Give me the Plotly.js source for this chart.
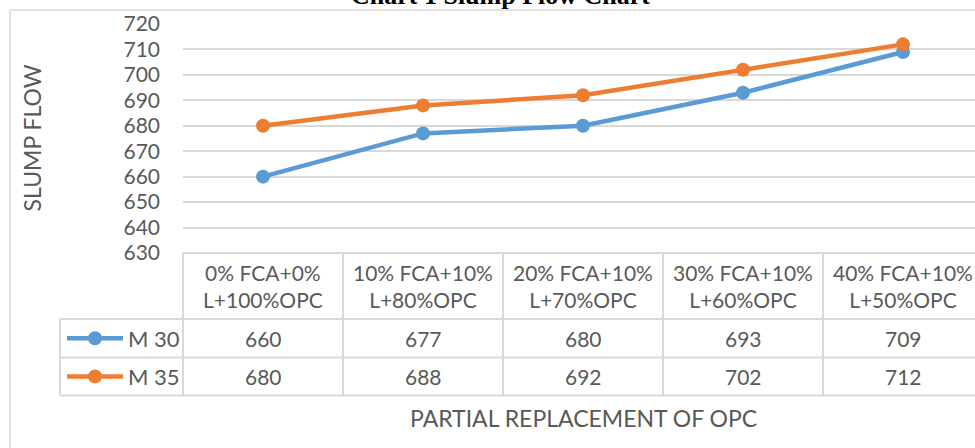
<!DOCTYPE html>
<html>
<head>
<meta charset="utf-8">
<script src="https://cdn.plot.ly/plotly-3.0.1.min.js"></script>
<style>
html,body{margin:0;padding:0;overflow:hidden;background:#fff;}
#chart{width:1000px;height:448px;}
</style>
</head>
<body>
<div id="chart"></div>
<script>
// ---- data ----
const categories = ['0% FCA+0%<br>L+100%OPC', '10% FCA+10%<br>L+80%OPC', '20% FCA+10%<br>L+70%OPC', '30% FCA+10%<br>L+60%OPC', '40% FCA+10%<br>L+50%OPC'];
const seriesNames = ['M 30', 'M 35'];
const m30 = [660, 677, 680, 693, 709];
const m35 = [680, 688, 692, 702, 712];
const yTicks = [630, 640, 650, 660, 670, 680, 690, 700, 710, 720];
const colors = ['#5b9bd5', '#ed7d31'];
const titleText = 'Chart 1 Slump Flow Chart';
const yTitle = 'SLUMP FLOW';
const xTitle = 'PARTIAL REPLACEMENT OF OPC';

// ---- geometry (pixels) ----
const W = 1000, H = 448;
const M = {l: 183, r: 17, t: 24, b: 195};
const PW = W - M.l - M.r, PH = H - M.t - M.b;
const px = x => (x - M.l) / PW;
const py = y => (H - M.b - y) / PH;
const FONT = 'Lato, "Open Sans", sans-serif';
const TXT = '#595959';
const GRID = '#d9d9d9';

const allSeries = [m30, m35];
const traces = allSeries.map((vals, k) => ({
  type: 'scatter', mode: 'lines+markers', name: seriesNames[k],
  x: categories, y: vals,
  line: {color: colors[k], width: 4.5},
  marker: {color: colors[k], size: 14},
  hoverinfo: 'skip', showlegend: false, cliponaxis: false
}));

const shapes = [];
const line = (x0, y0, x1, y1, color, width) => shapes.push({type: 'line', xref: 'paper', yref: 'paper',
  x0: x0, y0: y0, x1: x1, y1: y1, line: {color: color, width: width}, layer: 'below'});

// chart border
line(px(10), py(10), px(10), py(470), GRID, 1.5);
line(px(10), py(10), px(1100), py(10), GRID, 1.5);

// data table
const rowTop = 253, headBot = 319, row1Bot = 357.5, row2Bot = 395.5, tblLeft = 60;
const n = categories.length;
line(0, py(rowTop), 1, py(rowTop), GRID, 2);
[headBot, row1Bot, row2Bot].forEach(y => line(px(tblLeft), py(y), 1, py(y), GRID, 2));
line(px(tblLeft), py(headBot), px(tblLeft), py(row2Bot), GRID, 2);
for (let i = 0; i <= n; i++) line(i / n, py(rowTop), i / n, py(row2Bot), GRID, 2);

const rowCenters = [(headBot + row1Bot) / 2, (row1Bot + row2Bot) / 2];
const annotations = [];
// legend keys in table
rowCenters.forEach((yc, k) => {
  shapes.push({type: 'line', xref: 'paper', yref: 'paper', x0: px(67), x1: px(123), y0: py(yc), y1: py(yc),
    line: {color: colors[k], width: 4.5}});
  shapes.push({type: 'circle', xref: 'paper', yref: 'paper', x0: px(88), x1: px(102), y0: py(yc - 7), y1: py(yc + 7),
    fillcolor: colors[k], line: {color: colors[k], width: 0}});
  annotations.push({xref: 'paper', yref: 'paper', x: px(126), y: py(yc), xanchor: 'left', yanchor: 'middle',
    text: seriesNames[k], showarrow: false, font: {family: FONT, size: 22, color: TXT}});
});
// header and values
categories.forEach((c, i) => {
  annotations.push({xref: 'paper', yref: 'paper', x: (i + 0.5) / n, y: py((rowTop + headBot) / 2), xanchor: 'center', yanchor: 'middle',
    text: c, showarrow: false, font: {family: FONT, size: 21, color: TXT}});
  allSeries.forEach((vals, k) => {
    annotations.push({xref: 'paper', yref: 'paper', x: (i + 0.5) / n, y: py(rowCenters[k]), xanchor: 'center', yanchor: 'middle',
      text: String(vals[i]), showarrow: false, font: {family: FONT, size: 21, color: TXT}});
  });
});
// titles
annotations.push({xref: 'paper', yref: 'paper', x: px(500), y: py(-5), xanchor: 'center', yanchor: 'middle',
  text: '<b>' + titleText + '</b>', showarrow: false, font: {family: '"Liberation Serif", "Times New Roman", serif', size: 26, color: '#000'}});
annotations.push({xref: 'paper', yref: 'paper', x: 0.5, y: py(418), xanchor: 'center', yanchor: 'middle',
  text: xTitle, showarrow: false, font: {family: FONT, size: 23, color: TXT}});
annotations.push({xref: 'paper', yref: 'paper', x: px(31), y: 0.5, xanchor: 'center', yanchor: 'middle', textangle: -90,
  text: yTitle, showarrow: false, font: {family: FONT, size: 23, color: TXT}});

const layout = {
  width: W, height: H, margin: M,
  paper_bgcolor: '#fff', plot_bgcolor: '#fff',
  xaxis: {type: 'category', range: [-0.5, n - 0.5], showticklabels: false, showgrid: false, zeroline: false, showline: false, fixedrange: true},
  yaxis: {range: [630, 720], tickvals: yTicks, ticktext: yTicks.map(String), showgrid: true, gridcolor: GRID, gridwidth: 2,
    zeroline: false, showline: false, ticks: '', ticklabelstandoff: 22,
    tickfont: {family: FONT, size: 21, color: TXT}, fixedrange: true},
  shapes: shapes, annotations: annotations, showlegend: false
};

Plotly.newPlot('chart', traces, layout, {staticPlot: true, displayModeBar: false});
</script>
</body>
</html>
